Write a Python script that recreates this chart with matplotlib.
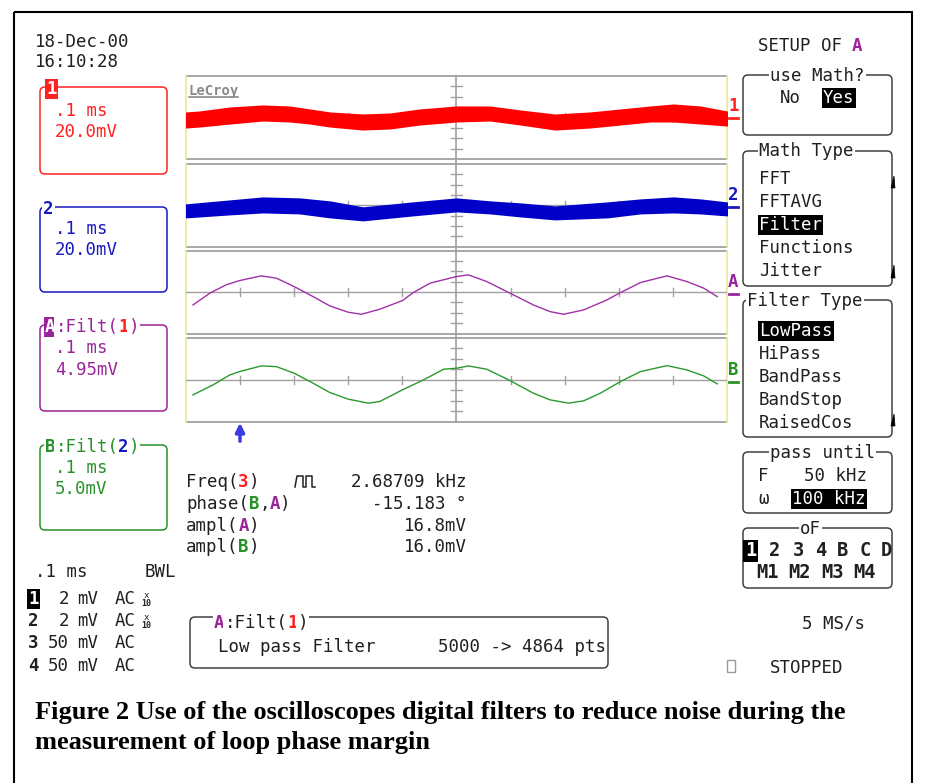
import matplotlib
matplotlib.use("Agg")
import matplotlib.pyplot as plt
from matplotlib.patches import FancyBboxPatch, Rectangle, Polygon

# ---- trace data (time in ms, values in mV) ----
red_t = [-0.5, -0.475, -0.419, -0.358, -0.308, -0.271, -0.234, -0.173, -0.123, -0.068,
         0.0, 0.062, 0.118, 0.182, 0.247, 0.303, 0.358, 0.401, 0.451, 0.5]
red_hi = [8.7, 10.6, 18.3, 22.2, 20.2, 14.5, 8.7, 4.8, 6.7, 14.5,
          20.2, 20.2, 12.5, 4.8, 8.7, 14.5, 20.2, 24.1, 20.2, 10.6]
red_lo = [-18.3, -16.4, -10.6, -4.8, -6.7, -10.6, -16.4, -22.2, -20.2, -12.5,
          -6.7, -4.8, -12.5, -22.2, -18.3, -12.5, -6.7, -6.7, -10.6, -14.5]

blue_t = [-0.5, -0.419, -0.358, -0.290, -0.234, -0.173, -0.081, 0.0,
          0.062, 0.118, 0.182, 0.279, 0.340, 0.401, 0.451, 0.5]
blue_hi = [0.7, 8.4, 14.2, 12.3, 6.5, -5.1, 4.5, 12.3,
           6.5, 2.6, -3.2, 4.5, 10.3, 14.2, 10.3, 4.5]
blue_lo = [-22.5, -16.7, -12.9, -14.8, -22.5, -28.3, -18.7, -10.9,
           -14.8, -20.6, -26.4, -22.5, -14.8, -12.9, -14.8, -18.7]

filt_a_t = [-0.487, -0.456, -0.426, -0.401, -0.361, -0.333, -0.300, -0.265, -0.234, -0.200,
            -0.176, -0.142, -0.100, -0.080, -0.049, 0.0, 0.022, 0.056, 0.099, 0.142,
            0.173, 0.198, 0.235, 0.278, 0.303, 0.340, 0.389, 0.426, 0.457, 0.482]
filt_a_mv = [-6.17, -0.57, 3.40, 5.45, 7.70, 6.60, 2.58, -2.20, -6.65, -9.66,
             -10.62, -8.23, -4.11, -0.29, 4.21, 7.37, 8.18, 4.97, -0.57, -6.17,
             -9.37, -10.62, -8.56, -3.78, -0.29, 4.50, 7.70, 4.97, 1.82, -2.20]

filt_b_t = [-0.487, -0.450, -0.419, -0.401, -0.361, -0.333, -0.300, -0.265, -0.234, -0.200,
            -0.163, -0.142, -0.100, -0.061, -0.024, 0.0, 0.022, 0.056, 0.099, 0.142,
            0.173, 0.207, 0.235, 0.266, 0.303, 0.340, 0.389, 0.426, 0.457, 0.482]
filt_b_mv = [-7.24, -2.46, 2.32, 3.90, 6.62, 6.29, 3.13, -1.65, -6.14, -9.30,
             -11.21, -10.44, -4.85, -0.07, 5.04, 5.52, 6.62, 5.04, -0.41, -6.43,
             -9.63, -11.21, -10.11, -6.43, -0.88, 3.90, 6.76, 4.71, 1.84, -1.98]

# volts/div of the four grids
panel_scales = [20.0, 20.0, 4.95, 5.0]

meas_labels = [[("Freq(", "k"), ("3", "r"), (")", "k")],
               [("phase(", "k"), ("B", "g"), (",", "k"), ("A", "p"), (")", "k")],
               [("ampl(", "k"), ("A", "p"), (")", "k")],
               [("ampl(", "k"), ("B", "g"), (")", "k")]]
meas_values = ["2.68709 kHz", "-15.183 \u00b0", "16.8mV", "16.0mV"]

math_types = ["FFT", "FFTAVG", "Filter", "Functions", "Jitter"]
filter_types = ["LowPass", "HiPass", "BandPass", "BandStop", "RaisedCos"]
source_row1 = ["1", "2", "3", "4", "B", "C", "D"]
source_row2 = ["M1", "M2", "M3", "M4"]
chan_rows = [("1", "2", True), ("2", "2", True), ("3", "50", False), ("4", "50", False)]

caption = ["Figure 2 Use of the oscilloscopes digital filters to reduce noise during the",
           "measurement of loop phase margin"]

# ---- colours ----
INK = "#202020"
C = {"k": INK, "r": "#ff2020", "b": "#1818c0", "p": "#9a259a", "g": "#279227"}
GRID = "#a0a0a0"
YEL = "#eee8a0"

W, H = 927, 783
fig = plt.figure(figsize=(W / 100, H / 100), dpi=100)
bg = fig.add_axes([0, 0, 1, 1])
bg.set_xlim(0, W)
bg.set_ylim(H, 0)
bg.axis("off")

MONO = "DejaVu Sans Mono"
FS = 12.5
CW = 10.45


def put(x, y, s, color=INK, weight="normal", size=FS, ha="left", box=None):
    kw = {}
    if box is not None:
        kw["bbox"] = dict(boxstyle="square,pad=0.08", fc=box, ec="none")
    return bg.text(x, y + 6, s, color=color, fontsize=size, fontweight=weight,
                   family=MONO, ha=ha, va="baseline", **kw)


def put_run(x, y, runs, box="white"):
    for s, col, wt in runs:
        put(x, y, s, color=col, weight=wt, box=box)
        x += len(s) * CW


def rbox(x0, y0, x1, y1, color, lw=1.1):
    bg.add_patch(FancyBboxPatch((x0, y0), x1 - x0, y1 - y0,
                                boxstyle="round,pad=0,rounding_size=5",
                                fc="none", ec=color, lw=lw))


# outer frame
bg.add_patch(Rectangle((14, 12), 898, 800, fc="none", ec="black", lw=1.5))

# date/time
put(35, 41, "18-Dec-00")
put(35, 61, "16:10:28")

# ---- left channel boxes ----
rbox(40, 87, 167, 174, C["r"])
put(46, 88, "1", color="white", weight="bold", box=C["r"])
put(55, 110, ".1 ms", color=C["r"])
put(55, 131, "20.0mV", color=C["r"])

rbox(40, 207, 167, 292, C["b"])
put(43, 208, "2", color=C["b"], weight="bold", box="white")
put(55, 228, ".1 ms", color=C["b"])
put(55, 249, "20.0mV", color=C["b"])

rbox(40, 325, 167, 411, C["p"])
put(45, 326, "A", color="white", weight="bold", box=C["p"])
put_run(45 + CW, 326, [(":Filt(", C["p"], "normal"), ("1", C["r"], "bold"), (")", C["p"], "normal")])
put(55, 347, ".1 ms", color=C["p"])
put(55, 369, "4.95mV", color=C["p"])

rbox(40, 445, 167, 530, C["g"])
put_run(45, 446, [("B", C["g"], "bold"), (":Filt(", C["g"], "normal"),
                  ("2", C["b"], "bold"), (")", C["g"], "normal")])
put(55, 467, ".1 ms", color=C["g"])
put(55, 488, "5.0mV", color=C["g"])

# ---- lower left channel table ----
put(35, 571, ".1 ms")
put(145, 571, "BWL")
for i, (ch, vdiv, x10) in enumerate(chan_rows):
    y = 598 + i * 22.2
    if i == 0:
        put(28, y, ch, color="white", weight="bold", box="black")
    else:
        put(28, y, ch, weight="bold")
    put(69, y, vdiv, ha="right")
    put(77, y, "mV")
    put(115, y, "AC")
    if x10:
        bg.text(146, y - 3, "x", fontsize=6.5, family=MONO, color=INK, ha="center", va="center")
        bg.text(146, y + 5, "10", fontsize=6, family=MONO, color=INK, ha="center",
                va="center", fontweight="bold")

# ---- grids and traces ----
X0, X1 = 186, 727
PANEL_Y = [(76, 159), (164, 246.5), (250.5, 333.5), (338, 421.5)]
bg.plot([456.5, 456.5], [76, 421.5], color=GRID, lw=1.2)

axes = []
for (ytop, ybot), s in zip(PANEL_Y, panel_scales):
    ax = fig.add_axes([X0 / W, 1 - ybot / H, (X1 - X0) / W, (ybot - ytop) / H])
    ax.set_xlim(-0.5, 0.5)
    ax.set_ylim(-4 * s, 4 * s)
    ax.axis("off")
    ax.patch.set_alpha(0)
    for yy in (-4 * s, 4 * s):
        ax.plot([-0.5, 0.5], [yy, yy], color=GRID, lw=1.3, clip_on=False)
    for xx in (-0.5, 0.5):
        ax.plot([xx, xx], [-4 * s, 4 * s], color=YEL, lw=1.3, clip_on=False)
    ax.plot([-0.5, 0.5], [0, 0], color=GRID, lw=1.0)
    for k in range(-4, 5):
        if k:
            ax.plot([k / 10, k / 10], [-0.4 * s, 0.4 * s], color=GRID, lw=1.0)
    for k in (-3, -2, -1, 1, 2, 3):
        ax.plot([-0.011, 0.011], [k * s, k * s], color=GRID, lw=1.0)
    axes.append(ax)

axes[0].fill_between(red_t, red_lo, red_hi, color="#ff0000", lw=1.5, ec="#ff0000", zorder=3)
axes[1].fill_between(blue_t, blue_lo, blue_hi, color="#0000c8", lw=1.5, ec="#0000c8", zorder=3)
axes[2].plot(filt_a_t, filt_a_mv, color="#a030a8", lw=1.0, zorder=3)
axes[3].plot(filt_b_t, filt_b_mv, color="#2a9a2a", lw=1.0, zorder=3)

# LeCroy logo
bg.text(189, 95, "LeCroy", family=MONO, fontsize=10, fontweight="bold", color="#8a8a8a", va="baseline")
bg.plot([189, 238], [97, 97], color="#8a8a8a", lw=1.2)

# trace ground markers at right edge
for lab, col, yc in [("1", C["r"], 105), ("2", C["b"], 194), ("A", C["p"], 281), ("B", C["g"], 369)]:
    put(728, yc, lab, color=col, weight="bold")
    bg.plot([729, 738], [yc + 13, yc + 13], color=col, lw=2)

# trigger arrow
bg.annotate("", xy=(240, 420), xytext=(240, 444),
            arrowprops=dict(arrowstyle="-|>", color="#3a3ae0", lw=2.5, mutation_scale=13))

# ---- measurements ----
for i, (runs, val) in enumerate(zip(meas_labels, meas_values)):
    y = 481 + i * 21.8
    parts = [(s, C[c], "bold" if c != "k" else "normal") for s, c in runs]
    put_run(186, y, parts, box=None)
    put(467, y, val, ha="right")
bg.plot([295, 297, 303, 303, 306, 306, 312, 312, 315], [487, 476, 476, 487, 487, 476, 476, 487, 487],
        color=INK, lw=1.1)

# filter summary box
rbox(190, 617, 608, 668, "#404040")
put_run(214, 622, [("A", C["p"], "bold"), (":Filt(", INK, "normal"), ("1", C["r"], "bold"), (")", INK, "normal")])
put(218, 646, "Low pass Filter")
put(606, 646, "5000 -> 4864 pts", ha="right")

# ---- right menu ----
put(758, 45, "SETUP OF")
put(758 + 9 * CW, 45, "A", color=C["p"], weight="bold")

rbox(743, 75, 892, 135, "#404040")
put(770, 75, "use Math?", box="white")
put(780, 97, "No")
put(823, 97, "Yes", color="white", box="black")

rbox(743, 151, 892, 286, "#404040")
put(759, 150, "Math Type", box="white")
for i, item in enumerate(math_types):
    y = 178 + i * 23
    if item == "Filter":
        put(759, y, item, color="white", box="black")
    else:
        put(759, y, item)

rbox(743, 300, 892, 437, "#404040")
put(747, 300, "Filter Type", box="white")
for i, item in enumerate(filter_types):
    y = 330 + i * 23
    if item == "LowPass":
        put(759, y, item, color="white", box="black")
    else:
        put(759, y, item)

for y0, y1 in [(176, 188), (265, 278), (414, 426)]:
    bg.add_patch(Polygon([(891, y1), (895, y1), (894, y0)], closed=True, fc="black", ec="black", lw=0.5))

rbox(743, 452, 892, 513, "#404040")
put(770, 452, "pass until", box="white")
put(758, 475, "F")
put(867, 475, "50 kHz", ha="right")
put(758, 498, "\u03c9")
put(792, 498, "100 kHz", color="white", box="black")

rbox(743, 528, 892, 588, "#404040")
put(800, 528, "oF", box="white")
for lab, x in zip(source_row1, [745, 769, 793, 815, 837, 860, 881]):
    if lab == "1":
        put(x, 550, lab, color="white", weight="bold", size=13.5, box="black")
    else:
        put(x, 550, lab, weight="bold", size=13.5)
for lab, x in zip(source_row2, [756, 788, 821, 853]):
    put(x, 572, lab, weight="bold", size=13.5)

put(802, 623, "5 MS/s")
bg.add_patch(Rectangle((727, 660), 8, 12, fc="none", ec="#9a9a9a", lw=1))
put(770, 667, "STOPPED")

# caption
for i, line in enumerate(caption):
    bg.text(35, 712 + i * 30, line, family="Liberation Serif", fontweight="bold",
            fontsize=19, color="black", va="center")

fig.savefig("out.png", dpi=100)
